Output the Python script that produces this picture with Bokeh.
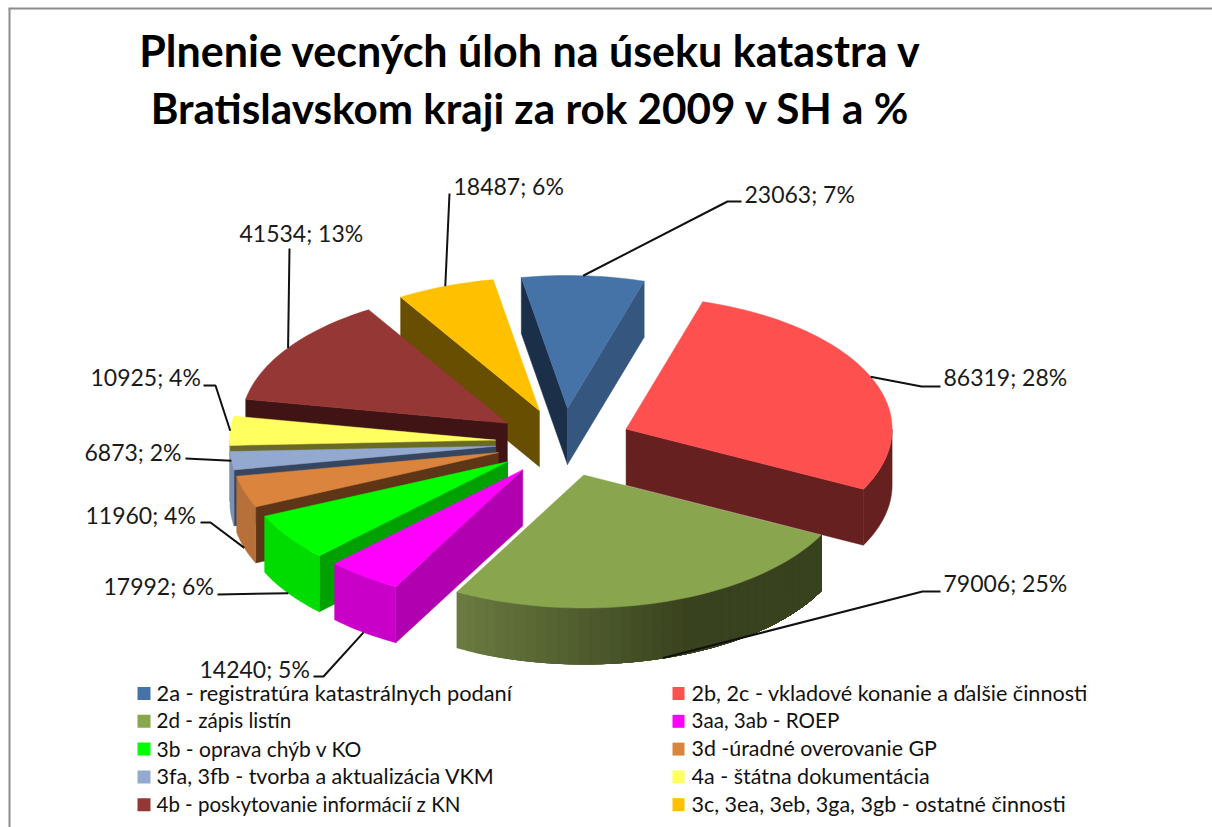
import math
from bokeh.plotting import figure
from bokeh.models import Range1d
from bokeh.core.properties import value
from bokeh.embed import file_html
from bokeh.resources import INLINE

title_lines = ["Plnenie vecných úloh na úseku katastra v", "Bratislavskom kraji za rok 2009 v SH a %"]
categories = ["2a - registratúra  katastrálnych podaní", "2b, 2c - vkladové konanie a ďalšie činnosti",
              "2d - zápis listín", "3aa, 3ab - ROEP", "3b - oprava chýb v KO", "3d -úradné overovanie GP",
              "3fa, 3fb - tvorba a aktualizácia VKM", "4a - štátna dokumentácia",
              "4b - poskytovanie informácií z KN", "3c, 3ea, 3eb, 3ga, 3gb - ostatné činnosti"]
values = [23063, 86319, 79006, 14240, 17992, 11960, 6873, 10925, 41534, 18487]
top_colors = ["#4572A7", "#FF5050", "#89A54E", "#FF00FF", "#00FF00", "#DB843D", "#93A9CF", "#FFFF5F", "#953735", "#FFC000"]
start_wall = ["#1B2F48", "#65201F", "#39421E", "#B000B0", "#00A000", "#5E3517", "#364560", "#6A6A28", "#401414", "#674E00"]
end_wall = ["#34567F", "#65201F", "#39421E", "#B000B0", "#00A000", "#5E3517", "#364560", "#6A6A28", "#401414", "#674E00"]
rim_left = ["#34567F", "#65201F", "#6A7A40", "#C800C8", "#00DC00", "#B8703A", "#7D90B0", "#C8C850", "#753030", "#C09000"]
rim_right = ["#34567F", "#65201F", "#39421E", "#C800C8", "#00DC00", "#B8703A", "#7D90B0", "#C8C850", "#753030", "#C09000"]
legend_sizes = [21.8, 21.6, 20.6, 20.6, 21, 21.4, 21.5, 21.5, 20.5, 21.5]

# layout of the projected pie (page pixels)
CX, CY, A, B, DEPTH, EXPLODE, FIRST = 563, 442, 266, 133, 56, 0.256, -10.0
# label: left x, middle y; elbow of the leader
label_pos = [(744, 193), (943, 376), (943, 582), (199, 668), (103, 585), (85, 514), (84, 451), (90, 376), (239, 232), (453, 185)]
elbows = [[(727, 201), (741, 201)], [(921, 386), (940, 386)], [(922, 591), (940, 591)], [(323, 676), (313, 676)],
          [(217, 594)], [(210, 522), (200, 522)], [(185, 458)], [(215, 385), (203, 385)], [(289, 248)], [(449, 193)]]
draw_order = [0, 9, 8, 7, 6, 5, 4, 3, 2, 1]

p = figure(width=1212, height=827, output_backend="svg", toolbar_location=None,
           x_range=Range1d(0, 1212), y_range=Range1d(827, 0), min_border=0)
p.xaxis.visible = False
p.yaxis.visible = False
p.grid.visible = False
p.outline_line_color = None
p.background_fill_color = "white"

def mix(c1, c2, t):
    a = [int(c1[i:i + 2], 16) for i in (1, 3, 5)]
    b = [int(c2[i:i + 2], 16) for i in (1, 3, 5)]
    return "#%02x%02x%02x" % tuple(round(u + (v - u) * t) for u, v in zip(a, b))

total = sum(values)
spans, ang = [], FIRST
for v in values:
    spans.append((ang, ang + 360.0 * v / total))
    ang += 360.0 * v / total

def rimpt(ax, ay, deg):
    r = math.radians(deg)
    return ax + A * math.sin(r), ay - B * math.cos(r)

def poly(pts, color):
    p.patch([q[0] for q in pts], [q[1] for q in pts], fill_color=color, line_color=color, line_width=0.5)

apexes = []
for s, e in spans:
    m = math.radians((s + e) / 2)
    apexes.append((CX + EXPLODE * A * math.sin(m), CY - EXPLODE * B * math.cos(m)))

def band(ax, ay, d0, d1, color):
    n = max(2, int(abs(d1 - d0) / 1.5))
    arc = [rimpt(ax, ay, d0 + (d1 - d0) * k / n) for k in range(n + 1)]
    poly(arc + [(q[0], q[1] + DEPTH) for q in reversed(arc)], color)

for i in draw_order:
    s, e = spans[i]
    ax, ay = apexes[i]
    if math.sin(math.radians(s)) < 0:
        c = rimpt(ax, ay, s)
        poly([(ax, ay), c, (c[0], c[1] + DEPTH), (ax, ay + DEPTH)], start_wall[i])
    if math.sin(math.radians(e)) > 0:
        c = rimpt(ax, ay, e)
        poly([(ax, ay), c, (c[0], c[1] + DEPTH), (ax, ay + DEPTH)], end_wall[i])
    # outer rim on the front half; a shaded rim is painted from its left end, each band covering the rest
    lo, hi = max(s, 90), min(e, 270)
    if hi > lo:
        if rim_left[i] == rim_right[i]:
            band(ax, ay, lo, hi, rim_left[i])
        else:
            steps = 40
            for k in range(steps):
                d = hi - (hi - lo) * k / steps
                xm = rimpt(ax, ay, d)[0]
                t = min(1, max(0, (xm - 456) / 225))
                band(ax, ay, lo, d, mix(rim_left[i], rim_right[i], t))
    n = max(4, int((e - s) / 1.5))
    arc = [rimpt(ax, ay, s + (e - s) * k / n) for k in range(n + 1)]
    poly([(ax, ay)] + arc, top_colors[i])

FONT = value("Lato")
for i, (s, e) in enumerate(spans):
    m = (s + e) / 2
    st = rimpt(*apexes[i], m)
    if math.cos(math.radians(m)) < -0.15:
        st = (st[0], st[1] + DEPTH)
    pts = [st] + elbows[i]
    p.line([q[0] for q in pts], [q[1] for q in pts], line_color="#111111", line_width=2)
    label = f"{values[i]}; {round(100 * values[i] / total)}%"
    p.text([label_pos[i][0]], [label_pos[i][1]], text=[label], text_font=FONT, text_font_size="23px",
           text_baseline="middle", text_align="left", text_color="#1a1a1a")

# frame
p.line([9, 9], [827, 8], line_color="#8c8c8c", line_width=2)
p.line([8, 1212], [8, 8], line_color="#8c8c8c", line_width=2)

# title
for line, y, size in zip(title_lines, (50, 107), ("43px", "42.2px")):
    p.text([530], [y], text=[line], text_font=FONT, text_font_style="bold", text_font_size=size,
           text_align="center", text_baseline="middle", text_color="black")

# legend
ROW0, ROWH = 693, 27.8
for i, cat in enumerate(categories):
    r = i // 2
    y = ROW0 + r * ROWH
    left = i % 2 == 0
    x0, w, tx = (137, 13, 156) if left else (672, 12, 691)
    p.quad(left=[x0], right=[x0 + w], top=[y - 6.5], bottom=[y + 6.5], fill_color=top_colors[i], line_color=None)
    p.text([tx], [y - 1], text=[cat], text_font=FONT, text_font_size=f"{legend_sizes[i]}px", text_baseline="middle",
           text_align="left", text_color="#111111")

open("out.html", "w").write(file_html(p, INLINE))
